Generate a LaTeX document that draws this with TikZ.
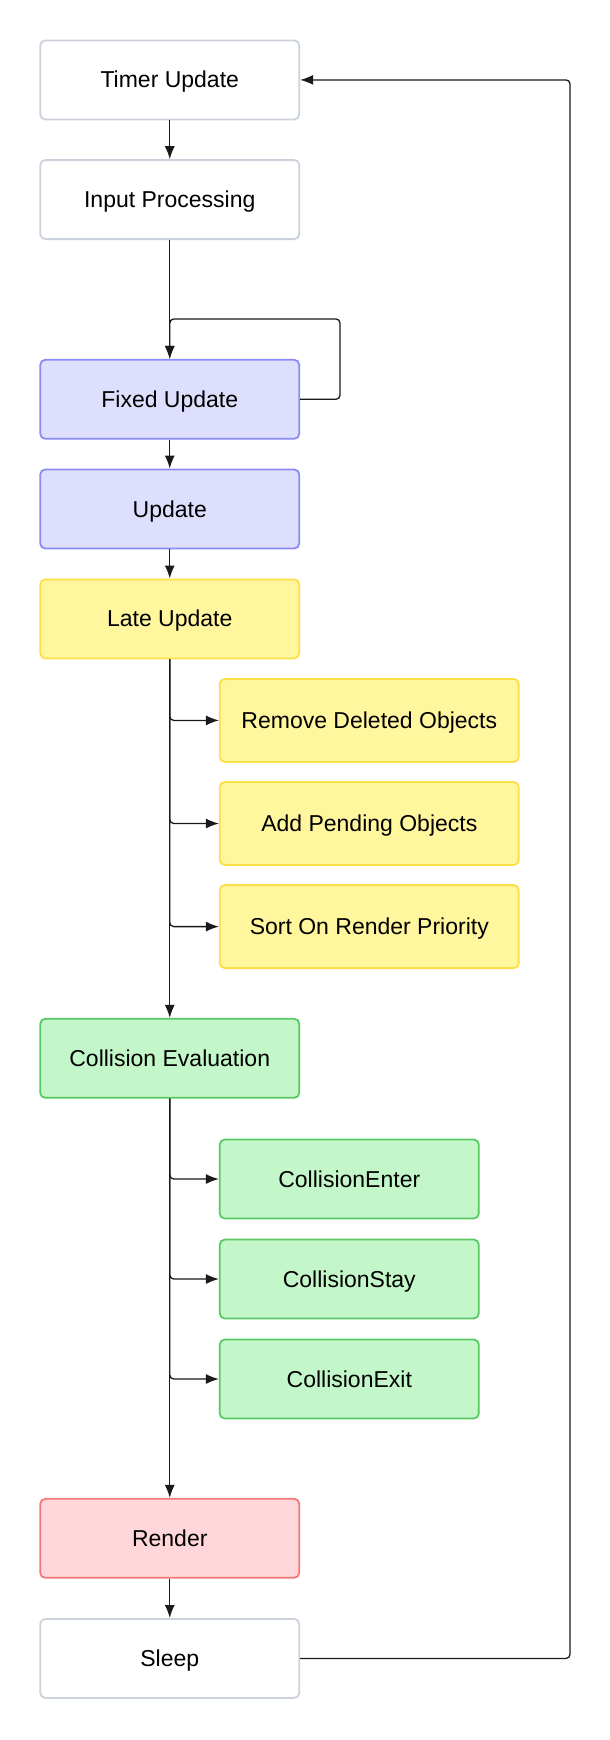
\documentclass[tikz,border=0pt]{standalone}
\usepackage{fontspec}
\setmainfont{Liberation Sans}
\usetikzlibrary{arrows.meta}
\definecolor{grayb}{HTML}{CBD2DC}
\definecolor{lavf}{HTML}{DEDEFD}
\definecolor{lavb}{HTML}{8B8BF7}
\definecolor{yelf}{HTML}{FFF69E}
\definecolor{yelb}{HTML}{FCDF45}
\definecolor{grnf}{HTML}{C3F6C8}
\definecolor{grnb}{HTML}{58C862}
\definecolor{redf}{HTML}{FFD7DA}
\definecolor{redb}{HTML}{F47878}
\definecolor{linec}{HTML}{1A1A1A}
\tikzset{
  box/.style={draw, rounded corners=5pt, line width=1.8pt, inner sep=0pt,
    minimum width=259pt, minimum height=79pt, font=\fontsize{23}{27}\selectfont,
    text=black, text height=18pt, text depth=2pt},
  whitebox/.style={box, draw=grayb, fill=white},
  lavbox/.style={box, draw=lavb, fill=lavf},
  yelbox/.style={box, draw=yelb, fill=yelf},
  yelsub/.style={yelbox, minimum width=299pt, minimum height=83pt},
  grnbox/.style={box, draw=grnb, fill=grnf},
  redbox/.style={box, draw=redb, fill=redf},
  conn/.style={draw=linec, line width=1.3pt, -{Latex[length=13pt,width=10pt]}},
  branch/.style={conn, rounded corners=4pt},
}
\begin{document}
\begin{tikzpicture}[x=1pt,y=1pt]
\useasboundingbox (0,0) rectangle (610,-1740);
\node[whitebox] (timer) at (169.75,-79.9) {Timer Update};
\node[whitebox] (input) at (169.75,-199.6) {Input Processing};
\node[lavbox] (fixed) at (169.75,-399.3) {Fixed Update};
\node[lavbox] (update) at (169.75,-509) {Update};
\node[yelbox] (late) at (169.75,-618.9) {Late Update};
\node[yelsub] (remove) at (369.3,-720.4) {Remove Deleted Objects};
\node[yelsub] (add) at (369.3,-823.5) {Add Pending Objects};
\node[yelsub] (sort) at (369.3,-926.6) {Sort On Render Priority};
\node[grnbox] (coll) at (169.75,-1058.3) {Collision Evaluation};
\node[grnbox] (enter) at (349.3,-1179) {CollisionEnter};
\node[grnbox] (stay) at (349.3,-1279) {CollisionStay};
\node[grnbox] (exit) at (349.3,-1379) {CollisionExit};
\node[redbox] (render) at (169.75,-1538.3) {Render};
\node[whitebox] (sleep) at (169.75,-1658.4) {Sleep};
\coordinate (loopa) at (340,-319);
\coordinate (loopb) at (570,-79.9);

\draw[conn] (timer) -- (input);
\draw[conn] (input) -- (fixed);
\draw[conn, rounded corners=4pt] (fixed.east) -| (loopa) -| (fixed.north);
\draw[conn] (fixed) -- (update);
\draw[conn] (update) -- (late);
\draw[branch] (late.south) |- (remove.west);
\draw[branch] (late.south) |- (add.west);
\draw[branch] (late.south) |- (sort.west);
\draw[conn] (late) -- (coll);
\draw[branch] (coll.south) |- (enter.west);
\draw[branch] (coll.south) |- (stay.west);
\draw[branch] (coll.south) |- (exit.west);
\draw[conn] (coll) -- (render);
\draw[conn] (render) -- (sleep);
\draw[conn, rounded corners=4pt] (sleep.east) -| (loopb) -- (timer.east);
\end{tikzpicture}
\end{document}
